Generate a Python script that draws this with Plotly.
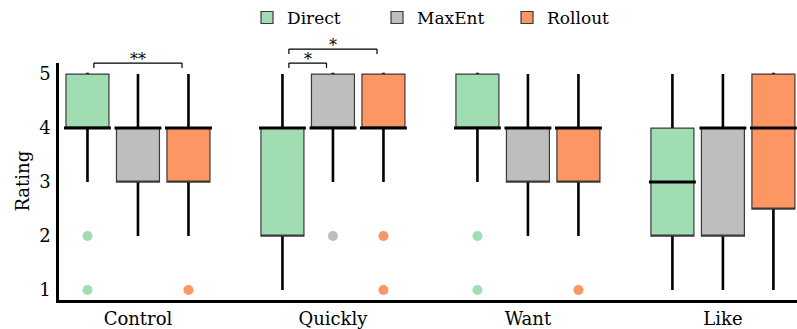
import plotly.graph_objects as go

categories = ["Control", "Quickly", "Want", "Like"]
series = ["Direct", "MaxEnt", "Rollout"]
colors = {"Direct": "#a1ddb3", "MaxEnt": "#bebebe", "Rollout": "#fd9662"}

q1 = {"Direct": [4, 2, 4, 2], "MaxEnt": [3, 4, 3, 2], "Rollout": [3, 4, 3, 2.5]}
median = {"Direct": [4, 4, 4, 3], "MaxEnt": [4, 4, 4, 4], "Rollout": [4, 4, 4, 4]}
q3 = {"Direct": [5, 4, 5, 4], "MaxEnt": [4, 5, 4, 4], "Rollout": [4, 5, 4, 5]}
lower = {"Direct": [3, 1, 3, 1], "MaxEnt": [2, 3, 2, 1], "Rollout": [2, 3, 2, 1]}
upper = {"Direct": [5, 5, 5, 5], "MaxEnt": [5, 5, 5, 5], "Rollout": [5, 5, 5, 5]}
outliers = {
    "Direct": [[2, 1], [], [2, 1], []],
    "MaxEnt": [[], [2], [], []],
    "Rollout": [[1], [2, 1], [1], []],
}
# (category, left series, right series, label, level)
brackets = [
    ("Control", "Direct", "Rollout", "**", 0),
    ("Quickly", "Direct", "MaxEnt", "*", 0),
    ("Quickly", "Direct", "Rollout", "*", 1),
]
y_ticks = [1, 2, 3, 4, 5]

FONT = "DejaVu Serif"
spacing = 0.259
box_w = 0.2205
y_range = [0.815, 5.205]
x_range = [-0.405, 3.38]


def pos(cat_idx, s):
    return cat_idx + (series.index(s) - 1) * spacing


fig = go.Figure()

# whiskers (thin core box, black thick lines)
for s in series:
    xs = [pos(i, s) for i in range(len(categories))]
    fig.add_trace(go.Box(
        x=xs, q1=q1[s], median=median[s], q3=q3[s],
        lowerfence=lower[s], upperfence=upper[s],
        width=0.002, whiskerwidth=0, line=dict(color="black", width=2.6),
        fillcolor="black", showlegend=False, hoverinfo="skip",
    ))

# filled boxes
for s in series:
    xs = [pos(i, s) for i in range(len(categories))]
    fig.add_trace(go.Box(
        x=xs, q1=q1[s], median=q1[s], q3=q3[s],
        lowerfence=q1[s], upperfence=q3[s],
        width=box_w, whiskerwidth=0, line=dict(color="#3a3a3a", width=1.2),
        fillcolor=colors[s], name=s, showlegend=True, legendgroup=s,
    ))

# medians
for s in series:
    xs = [pos(i, s) for i in range(len(categories))]
    fig.add_trace(go.Box(
        x=xs, q1=median[s], median=median[s], q3=median[s],
        lowerfence=median[s], upperfence=median[s],
        width=box_w + 0.02, whiskerwidth=0, line=dict(color="black", width=3),
        fillcolor="black", showlegend=False, hoverinfo="skip",
    ))

# outliers
for s in series:
    ox, oy = [], []
    for i, vals in enumerate(outliers[s]):
        for v in vals:
            ox.append(pos(i, s))
            oy.append(v)
    fig.add_trace(go.Scatter(
        x=ox, y=oy, mode="markers", marker=dict(color=colors[s], size=10),
        showlegend=False, cliponaxis=False, hoverinfo="skip",
    ))


def frac(v):
    return (v - y_range[0]) / (y_range[1] - y_range[0])


level_y = [5.204, 5.463]
tick_drop = 0.093
inset = 0.033
for cat, a, b, label, lvl in brackets:
    ci = categories.index(cat)
    xa = pos(ci, a) + inset
    xb = pos(ci, b) - inset
    yt = level_y[lvl]
    yb = yt - tick_drop
    line = dict(color="black", width=1.2)
    fig.add_shape(type="line", xref="x", yref="y domain", x0=xa, x1=xb,
                  y0=frac(yt), y1=frac(yt), line=line)
    fig.add_shape(type="line", xref="x", yref="y domain", x0=xa, x1=xa,
                  y0=frac(yb), y1=frac(yt), line=line)
    fig.add_shape(type="line", xref="x", yref="y domain", x0=xb, x1=xb,
                  y0=frac(yb), y1=frac(yt), line=line)
    fig.add_annotation(x=(xa + xb) / 2, y=frac(yt), xref="x", yref="y domain",
                       text=label, showarrow=False, yanchor="bottom", yshift=-8,
                       font=dict(family=FONT, size=16, color="black"))

# y-axis title
fig.add_annotation(x=-0.05, y=0.5, xref="paper", yref="paper", text="Rating",
                   textangle=-90, showarrow=False, xanchor="center", yanchor="middle",
                   font=dict(family=FONT, size=18, color="black"))

fig.update_layout(
    width=797, height=329,
    margin=dict(l=59, r=0, t=63, b=29, autoexpand=False),
    paper_bgcolor="white", plot_bgcolor="white",
    boxmode="overlay",
    font=dict(family=FONT, size=18, color="black"),
    legend=dict(orientation="h", x=0.519, xanchor="center", y=1.19, yanchor="middle",
                font=dict(family=FONT, size=17), entrywidth=85, entrywidthmode="pixels",
                bgcolor="rgba(0,0,0,0)"),
    xaxis=dict(range=x_range, tickvals=list(range(len(categories))), ticktext=categories,
               showgrid=False, zeroline=False, showline=True, linecolor="black",
               linewidth=2.5, ticks="", tickfont=dict(size=18), ticklabelstandoff=1,
               automargin=False),
    yaxis=dict(range=y_range, tickvals=y_ticks, showgrid=False, zeroline=False,
               showline=True, linecolor="black", linewidth=2.5, ticks="",
               tickfont=dict(size=18), ticklabelstandoff=2, automargin=False),
)

fig.write_html("out.html", config={"displayModeBar": False},
               post_script="document.body.style.margin='0';document.body.style.padding='0';")
